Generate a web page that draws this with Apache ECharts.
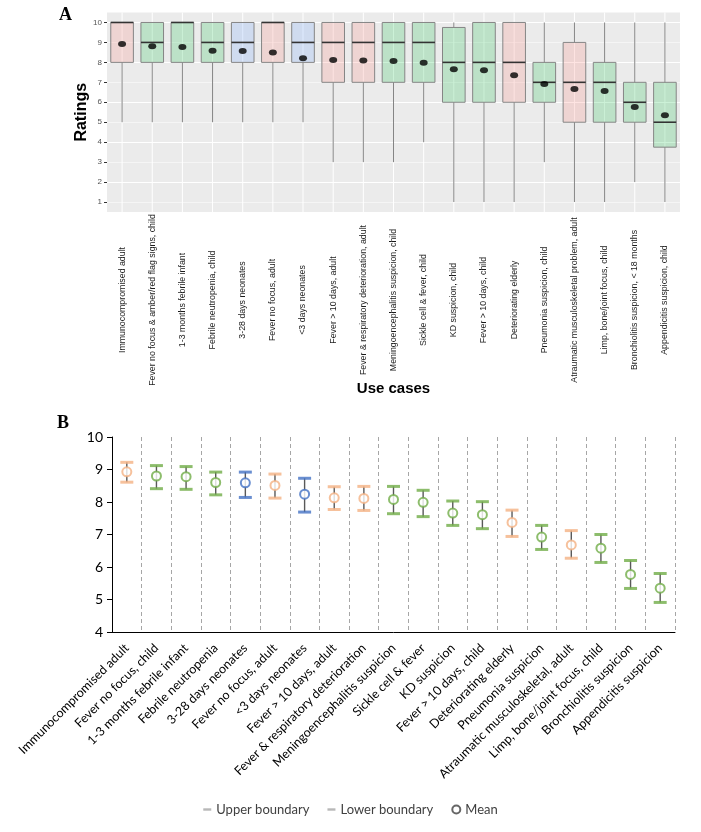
<!DOCTYPE html>
<html>
<head>
<meta charset="utf-8">
<script src="https://cdn.jsdelivr.net/npm/echarts@6.0.0/dist/echarts.min.js"></script>
<style>
  html, body { margin: 0; padding: 0; background: #fff; }
  #chart { width: 701px; height: 832px; }
</style>
</head>
<body>
<div id="chart"></div>
<script>
// panel A: box plots of ratings per use case
const useCasesA = [
  'Immunocompromised adult',
  'Fever no focus & amber/red flag signs, child',
  '1-3 months febrile infant',
  'Febrile neutropenia, child',
  '3-28 days neonates',
  'Fever no focus, adult',
  '<3 days neonates',
  'Fever > 10 days, adult',
  'Fever & respiratory deterioration, adult',
  'Meningoencephalitis suspicion, child',
  'Sickle cell & fever, child',
  'KD suspicion, child',
  'Fever > 10 days, child',
  'Deteriorating elderly',
  'Pneumonia suspicion, child',
  'Atraumatic musculoskeletal problem, adult',
  'Limp, bone/joint focus, child',
  'Bronchiolitis suspicion, < 18 months',
  'Appendicitis suspicion, child',
]
const groups = ['adult', 'child', 'child', 'child', 'neonate', 'adult', 'neonate', 'adult', 'adult', 'child',
  'child', 'child', 'child', 'adult', 'child', 'adult', 'child', 'child', 'child']

const whiskerLow = [5, 5, 5, 5, 5, 5, 5, 3, 3, 3, 4, 1, 1, 1, 3, 1, 1, 2, 1]
const q1 = [8, 8, 8, 8, 8, 8, 8, 7, 7, 7, 7, 6, 6, 6, 6, 5, 5, 5, 3.75]
const median = [10, 9, 10, 9, 9, 10, 9, 9, 9, 9, 9, 8, 8, 8, 7, 7, 7, 6, 5]
const q3 = [10, 10, 10, 10, 10, 10, 10, 10, 10, 10, 10, 9.75, 10, 10, 8, 9, 8, 7, 7]
const whiskerHigh = [10, 10, 10, 10, 10, 10, 10, 10, 10, 10, 10, 10, 10, 10, 10, 10, 10, 10, 10]
const meansA = [8.92, 8.81, 8.77, 8.58, 8.57, 8.49, 8.21, 8.12, 8.1, 8.07, 7.98, 7.65, 7.6, 7.35, 6.92, 6.67, 6.57, 5.76, 5.35]
const ratingTicks = [1, 2, 3, 4, 5, 6, 7, 8, 9, 10]

// panel B: mean with upper / lower boundary
const useCasesB = [
  'Immunocompromised adult',
  'Fever no focus, child',
  '1-3 months febrile infant',
  'Febrile neutropenia',
  '3-28 days neonates',
  'Fever no focus, adult',
  '<3 days neonates',
  'Fever > 10 days, adult',
  'Fever & respiratory deterioration',
  'Meningoencephalitis suspicion',
  'Sickle cell & fever',
  'KD suspicion',
  'Fever > 10 days, child',
  'Deteriorating elderly',
  'Pneumonia suspicion',
  'Atraumatic musculoskeletal, adult',
  'Limp, bone/joint focus, child',
  'Bronchiolitis suspicion',
  'Appendicitis suspicion',
]
const meansB = [8.93, 8.8, 8.78, 8.6, 8.59, 8.51, 8.24, 8.13, 8.11, 8.08, 7.99, 7.66, 7.61, 7.37, 6.92, 6.68, 6.58, 5.77, 5.35]
const upperB = [9.22, 9.12, 9.09, 8.92, 8.92, 8.86, 8.73, 8.47, 8.48, 8.48, 8.36, 8.03, 8.01, 7.75, 7.28, 7.12, 7.0, 6.2, 5.8]
const lowerB = [8.61, 8.41, 8.39, 8.22, 8.14, 8.12, 7.69, 7.77, 7.74, 7.64, 7.55, 7.28, 7.18, 6.94, 6.54, 6.27, 6.14, 5.34, 4.91]

const boxFill = {
  adult: 'rgba(248, 118, 109, 0.2)',
  child: 'rgba(0, 186, 56, 0.2)',
  neonate: 'rgba(97, 156, 255, 0.2)',
}
const barColor = {
  adult: '#f4b183',
  child: '#70ad47',
  neonate: '#4472c4',
}

const chart = echarts.init(document.getElementById('chart'))

const option = {
  animation: false,
  backgroundColor: '#fff',
  graphic: [
    { type: 'text', left: 59, top: 6, style: { text: 'A', font: 'bold 18px "Liberation Serif"', fill: '#000' } },
    { type: 'text', left: 57, top: 414, style: { text: 'B', font: 'bold 18px "Liberation Serif"', fill: '#000' } },
  ],
  grid: [
    { left: 107, top: 12.5, width: 573, height: 199.5, show: true, backgroundColor: '#ebebeb', borderWidth: 0 },
    { left: 112, top: 437, width: 563, height: 195 },
  ],
  legend: {
    bottom: 11,
    left: 'center',
    itemWidth: 8,
    itemHeight: 8,
    itemGap: 18,
    textStyle: { fontFamily: 'Lato', fontSize: 13, color: '#404040' },
    data: [
      { name: 'Upper boundary', icon: 'path://M0,0h10v3h-10z' },
      { name: 'Lower boundary', icon: 'path://M0,0h10v3h-10z' },
      { name: 'Mean', icon: 'emptyCircle' },
    ],
  },
  xAxis: [
    {
      gridIndex: 0,
      type: 'category',
      data: useCasesA,
      axisLine: { show: false },
      axisTick: { alignWithLabel: true, length: 3, lineStyle: { color: '#333' } },
      splitLine: { show: false },
      axisLabel: {
        interval: 0,
        rotate: 90,
        align: 'center',
        verticalAlign: 'middle',
        margin: 88,
        fontFamily: 'Liberation Sans',
        fontSize: 8.8,
        color: '#1a1a1a',
      },
      name: 'Use cases',
      nameLocation: 'middle',
      nameGap: 169,
      nameMoveOverlap: false,
      nameTextStyle: { fontFamily: 'Liberation Sans', fontWeight: 'bold', fontSize: 15, color: '#000' },
    },
    {
      gridIndex: 1,
      type: 'category',
      data: useCasesB,
      boundaryGap: true,
      axisLine: { lineStyle: { color: '#000', width: 1 } },
      axisTick: { length: 4, lineStyle: { color: '#000' } },
      splitLine: { show: true, lineStyle: { color: '#a6a6a6', type: [4, 3] } },
      axisLabel: {
        interval: 0,
        rotate: 45,
        margin: 14,
        fontFamily: 'Lato',
        fontSize: 12.5,
        color: '#000',
      },
    },
  ],
  yAxis: [
    {
      gridIndex: 0,
      type: 'value',
      min: 0.5,
      max: 10.5,
      interval: 0.5,
      axisLine: { show: false },
      axisTick: { show: true, customValues: ratingTicks, length: 3, lineStyle: { color: '#333' } },
      axisLabel: { customValues: ratingTicks, fontFamily: 'Liberation Sans', fontSize: 8, color: '#555', margin: 5 },
      splitLine: { show: true, lineStyle: { color: ['#f5f5f5', '#ffffff'], width: 1 } },
      name: 'Ratings',
      nameLocation: 'middle',
      nameRotate: 90,
      nameGap: 17,
      nameMoveOverlap: false,
      nameTextStyle: { fontFamily: 'Liberation Sans', fontWeight: 'bold', fontSize: 16, color: '#000' },
    },
    {
      gridIndex: 1,
      type: 'value',
      min: 4,
      max: 10,
      interval: 1,
      axisLine: { show: true, lineStyle: { color: '#000', width: 1 } },
      axisTick: { show: true, length: 5, lineStyle: { color: '#000' } },
      axisLabel: { fontFamily: 'Lato', fontSize: 14, color: '#000', margin: 9 },
      splitLine: { show: false },
    },
  ],
  series: [
    // white vertical grid lines at each category (ggplot style)
    {
      type: 'custom',
      xAxisIndex: 0,
      yAxisIndex: 0,
      z: 1,
      silent: true,
      data: useCasesA.map((c, i) => [i]),
      renderItem: (params, api) => {
        const x = api.coord([api.value(0), 1])[0]
        const cs = params.coordSys
        return {
          type: 'line',
          shape: { x1: x, y1: cs.y, x2: x, y2: cs.y + cs.height },
          style: { stroke: '#ffffff', lineWidth: 1 },
        }
      },
    },
    // box plots
    {
      type: 'custom',
      xAxisIndex: 0,
      yAxisIndex: 0,
      z: 2,
      data: useCasesA.map((c, i) => [i, whiskerLow[i], q1[i], median[i], q3[i], whiskerHigh[i]]),
      renderItem: (params, api) => {
        const i = api.value(0)
        const lo = api.coord([i, api.value(1)])
        const b1 = api.coord([i, api.value(2)])
        const med = api.coord([i, api.value(3)])
        const b3 = api.coord([i, api.value(4)])
        const hi = api.coord([i, api.value(5)])
        const w = api.size([1, 0])[0] * 0.75
        const x = lo[0]
        const grey = '#858585'
        return {
          type: 'group',
          children: [
            { type: 'line', shape: { x1: x, y1: hi[1], x2: x, y2: b3[1] }, style: { stroke: grey, lineWidth: 1 } },
            { type: 'line', shape: { x1: x, y1: b1[1], x2: x, y2: lo[1] }, style: { stroke: grey, lineWidth: 1 } },
            {
              type: 'rect',
              shape: { x: x - w / 2, y: b3[1], width: w, height: b1[1] - b3[1] },
              style: { fill: boxFill[groups[i]], stroke: grey, lineWidth: 1 },
            },
            { type: 'line', shape: { x1: x - w / 2, y1: med[1], x2: x + w / 2, y2: med[1] }, style: { stroke: '#333', lineWidth: 1.6 } },
          ],
        }
      },
    },
    {
      type: 'scatter',
      xAxisIndex: 0,
      yAxisIndex: 0,
      z: 3,
      symbol: 'circle',
      symbolSize: [8, 6],
      itemStyle: { color: '#000' },
      data: meansA.map((v, i) => [i, v]),
    },
    // high-low lines
    {
      type: 'custom',
      xAxisIndex: 1,
      yAxisIndex: 1,
      z: 2,
      data: useCasesB.map((c, i) => [i, lowerB[i], upperB[i]]),
      renderItem: (params, api) => {
        const a = api.coord([api.value(0), api.value(1)])
        const b = api.coord([api.value(0), api.value(2)])
        return {
          type: 'line',
          shape: { x1: a[0], y1: a[1], x2: b[0], y2: b[1] },
          style: { stroke: '#595959', lineWidth: 1.4 },
        }
      },
    },
    {
      name: 'Upper boundary',
      type: 'scatter',
      xAxisIndex: 1,
      yAxisIndex: 1,
      z: 3,
      symbol: 'rect',
      symbolSize: [13, 3],
      itemStyle: { color: '#a6a6a6' },
      data: upperB.map((v, i) => ({ value: [i, v], itemStyle: { color: barColor[groups[i]] } })),
    },
    {
      name: 'Lower boundary',
      type: 'scatter',
      xAxisIndex: 1,
      yAxisIndex: 1,
      z: 3,
      symbol: 'rect',
      symbolSize: [13, 3],
      itemStyle: { color: '#a6a6a6' },
      data: lowerB.map((v, i) => ({ value: [i, v], itemStyle: { color: barColor[groups[i]] } })),
    },
    {
      name: 'Mean',
      type: 'scatter',
      xAxisIndex: 1,
      yAxisIndex: 1,
      z: 4,
      symbol: 'emptyCircle',
      symbolSize: 9,
      itemStyle: { color: '#404040', borderWidth: 1.2 },
      data: meansB.map((v, i) => ({ value: [i, v], itemStyle: { color: barColor[groups[i]] } })),
    },
  ],
}

chart.setOption(option)
</script>
</body>
</html>
